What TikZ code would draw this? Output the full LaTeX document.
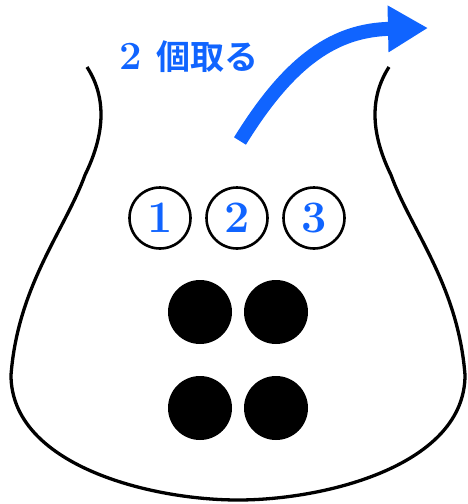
\documentclass[tikz,border=0pt]{standalone}
\usepackage{fontspec}
\newfontfamily\cjk{Noto Sans CJK JP}[BoldFont={Noto Sans CJK JP Bold}]
\usetikzlibrary{arrows.meta}
\definecolor{myblue}{RGB}{16,100,255}
\tikzset{
  numcirc/.style={circle,draw=black,line width=2.6pt,minimum size=61pt,inner sep=0pt,text=myblue,font=\fontsize{45}{45}\selectfont\bfseries},
  ball/.style={circle,fill=black,minimum size=64pt,inner sep=0pt},
  bag/.style={line width=3.3pt,black},
}
\begin{document}
\begin{tikzpicture}[x=1pt,y=-1pt]
\useasboundingbox (0,0) rectangle (467,504);
\draw[bag] (87,67) .. controls (105,95) and (107,130) .. (85,175)
  .. controls (65,230) and (18,285) .. (11,375)
  .. controls (11,465) and (150,500) .. (238,500)
  .. controls (326,500) and (465,465) .. (465,375)
  .. controls (458,285) and (411,230) .. (391,175)
  .. controls (369,130) and (371,95) .. (389,67);
\node[numcirc] (c1) at (160,218) {1};
\node[numcirc] (c2) at (237,218) {2};
\node[numcirc] (c3) at (314,218) {3};
\node[ball] (b1) at (200,312) {};
\node[ball] (b2) at (276,312) {};
\node[ball] (b3) at (200,408) {};
\node[ball] (b4) at (276,408) {};
\node[anchor=west,text=myblue,inner sep=0pt] (lbl) at (119,57) {\fontsize{40}{40}\selectfont\bfseries 2\hspace{15pt}{\cjk\fontsize{34}{34}\selectfont\bfseries 個取る}};
\coordinate (a0) at (240,141);
\coordinate (a1) at (428,28);
\draw[myblue,line width=14pt,-{Triangle[length=40pt,width=44pt]}] (a0) .. controls (290,60) and (335,30) .. (a1);
\end{tikzpicture}
\end{document}
